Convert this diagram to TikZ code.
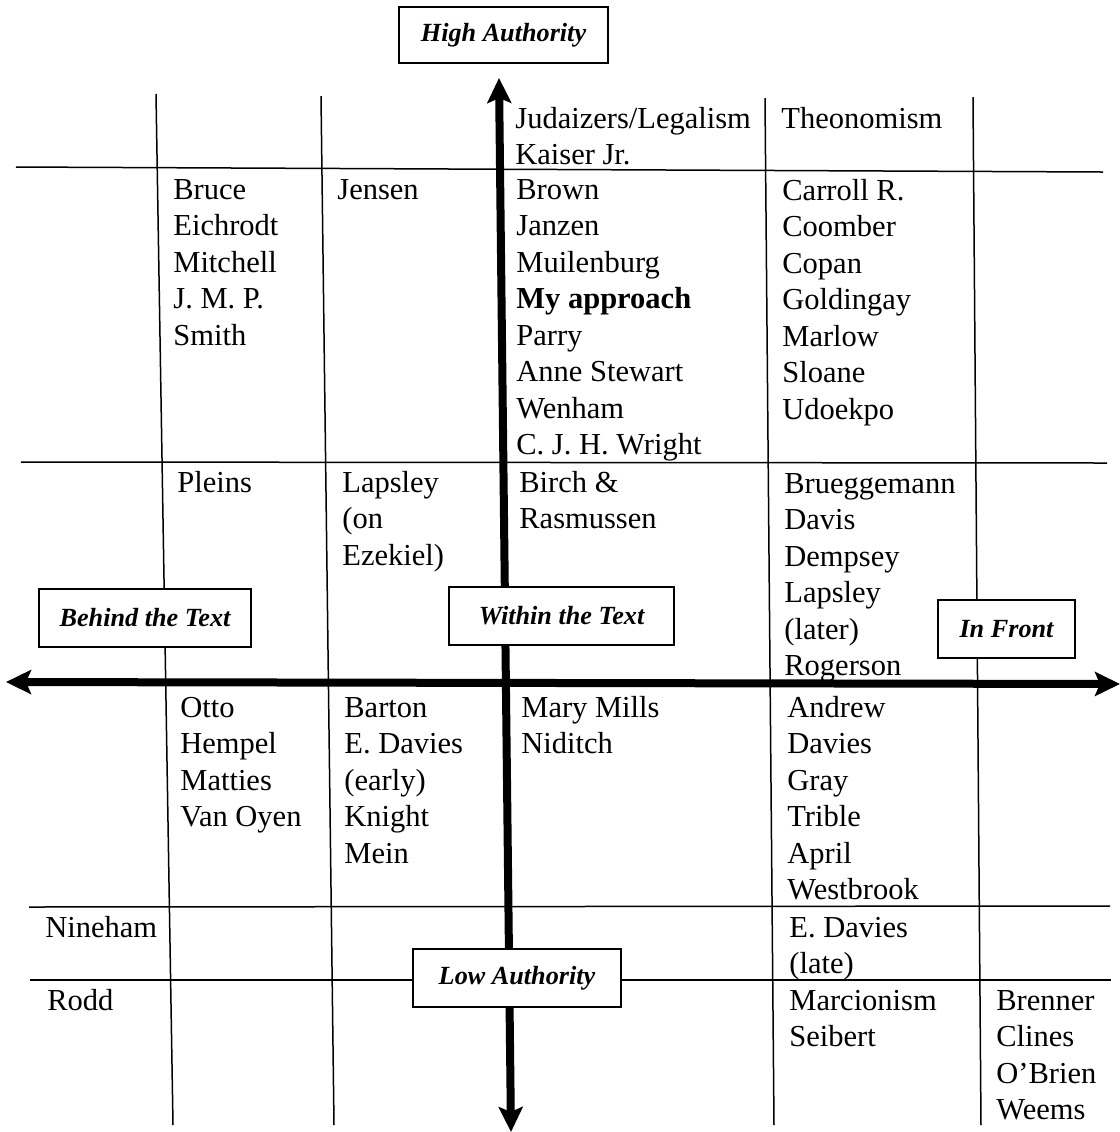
\documentclass[tikz,border=0pt]{standalone}
\usepackage{fontspec}
\setmainfont{Liberation Serif}
\usetikzlibrary{positioning, arrows.meta}

\newcommand{\namefont}{\fontsize{15.25}{18.25}\selectfont}
\newcommand{\tagfont}{\fontsize{13.1}{15}\selectfont\bfseries\itshape}

\begin{document}
\begin{tikzpicture}[x=0.5pt, y=-0.5pt,
    >={Stealth[length=12.5pt, width=12pt, inset=2.5pt]},
    names/.style={anchor=north west, yshift=12.775pt, align=left, inner sep=0pt,
        font=\namefont},
    grid/.style={line width=0.75pt},
    axis/.style={line width=4pt, <->},
    tag/.style={draw, line width=0.75pt, fill=white, inner sep=0pt, font=\tagfont}]
    \useasboundingbox (0,0) rectangle (1120,1132);

    % grid
    \draw[grid] (156,94) -- (173,1125);
    \draw[grid] (321,96) -- (334,1125);
    \draw[grid] (765,98) -- (774,1125);
    \draw[grid] (973,97) -- (981,1125);
    \draw[grid] (16,167) -- (1103,172);
    \draw[grid] (21,462) -- (1107,463);
    \draw[grid] (29,907) -- (1110,906);
    \draw[grid] (30,980) -- (1111,980);

    % axes
    \coordinate (top) at (499,78);
    \coordinate (bottom) at (511,1132);
    \coordinate (left) at (6,682);
    \coordinate (right) at (1120,684);
    \draw[axis] (bottom) -- (top);
    \draw[axis] (left) -- (right);

    \node[tag, minimum width=104.5pt, minimum height=28pt] (high) at (503.5,35) {High Authority};
    \node[tag, minimum width=104pt, minimum height=29pt] (low) at (517,978) {Low Authority};
    \node[tag, minimum width=106pt, minimum height=29pt] (behind) at (145,618) {Behind the Text};
    \node[tag, minimum width=112.5pt, minimum height=29pt] (within) at (561.5,616) {Within the Text};
    \node[tag, minimum width=68.5pt, minimum height=29pt] (front) at (1006.5,629) {In Front};

    % names
    \node[names] (judaizers) at (515,128) {\strut Judaizers/Legalism\\Kaiser Jr.};
    \node[names] (theonomism) at (781,128) {\strut Theonomism};
    \node[names] (bruce) at (173,199) {\strut Bruce\\Eichrodt\\Mitchell\\J. M. P.\\Smith};
    \node[names] (jensen) at (337,199) {\strut Jensen};
    \node[names] (brown) at (516,199) {\strut Brown\\Janzen\\Muilenburg\\\textbf{My approach}\\Parry\\Anne Stewart\\Wenham\\C. J. H. Wright};
    \node[names] (carroll) at (782,200) {\strut Carroll R.\\Coomber\\Copan\\Goldingay\\Marlow\\Sloane\\Udoekpo};
    \node[names] (pleins) at (177,492) {\strut Pleins};
    \node[names] (lapsley) at (342,492) {\strut Lapsley\\(on\\Ezekiel)};
    \node[names] (birch) at (519,492) {\strut Birch \&\\Rasmussen};
    \node[names] (brueggemann) at (784,493) {\strut Brueggemann\\Davis\\Dempsey\\Lapsley\\(later)\\Rogerson};
    \node[names] (otto) at (180,717) {\strut Otto\\Hempel\\Matties\\Van Oyen};
    \node[names] (barton) at (344,717) {\strut Barton\\E. Davies\\(early)\\Knight\\Mein};
    \node[names] (mills) at (521,717) {\strut Mary Mills\\Niditch};
    \node[names] (andrew) at (787,717) {\strut Andrew\\Davies\\Gray\\Trible\\April\\Westbrook};
    \node[names] (nineham) at (45,937) {\strut Nineham};
    \node[names] (edavies) at (789,937) {\strut E. Davies\\(late)};
    \node[names] (rodd) at (47,1010) {\strut Rodd};
    \node[names] (marcion) at (789,1010) {\strut Marcionism\\Seibert};
    \node[names] (brenner) at (996,1010) {\strut Brenner\\Clines\\O'Brien\\Weems};
\end{tikzpicture}
\end{document}
